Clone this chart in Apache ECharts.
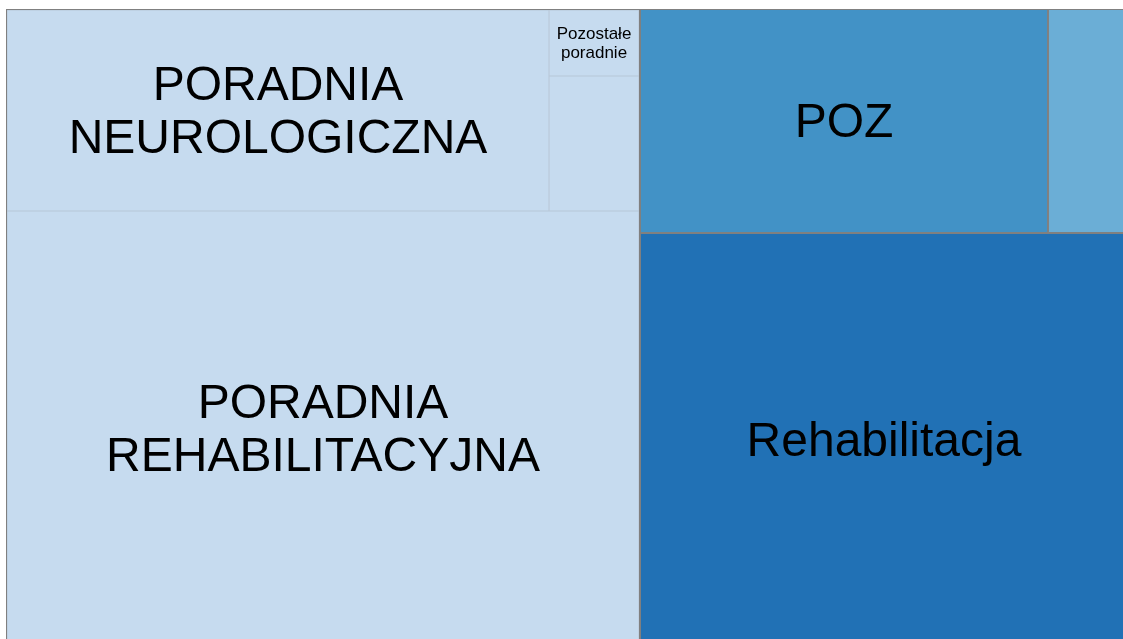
<!DOCTYPE html>
<html>
<head>
<meta charset="utf-8">
<script src="https://cdn.jsdelivr.net/npm/echarts@6/dist/echarts.min.js"></script>
<style>
  html, body { margin: 0; padding: 0; background: #fff; overflow: hidden; }
  #chart { width: 1123px; height: 639px; }
</style>
</head>
<body>
<div id="chart"></div>
<script>
// left block: clinics ("poradnie")
var poradnieNames = ['PORADNIA NEUROLOGICZNA', 'Pozostałe poradnie', '', 'PORADNIA REHABILITACYJNA'];
var poradnieValues = [153.4, 8.36, 17.1, 386.2];
// right block
var otherNames = ['POZ', '', 'Rehabilitacja'];
var otherValues = [127.88, 25.07, 281.99];

var poradnieColor = '#c6dbef';
var otherColors = ['#4292c6', '#6baed6', '#2171b5'];

function leaf(name, value, color, light, small) {
  return {
    name: name,
    value: value,
    itemStyle: {
      color: color,
      borderColor: light ? '#b7c6d6' : '#808080',
      borderWidth: light ? 0.5 : 1
    },
    label: {
      fontSize: small ? 17 : 48,
      lineHeight: small ? 19 : 53,
      offset: small ? [0, 1] : [0, 3]
    }
  };
}

var hidden = { borderWidth: 0, gapWidth: 0 };

var poradnieLeaves = poradnieNames.map(function (n, i) {
  return leaf(n, poradnieValues[i], poradnieColor, true, n === 'Pozostałe poradnie');
});
var otherLeaves = otherNames.map(function (n, i) {
  return leaf(n, otherValues[i], otherColors[i], false, false);
});

var data = [
  {
    name: 'Poradnie',
    itemStyle: { borderColor: '#808080', borderWidth: 1, gapWidth: 0 },
    children: [
      { name: ' ', itemStyle: hidden, children: poradnieLeaves.slice(0, 3) },
      poradnieLeaves[3]
    ]
  },
  {
    name: ' ',
    itemStyle: hidden,
    children: [
      { name: ' ', itemStyle: hidden, children: otherLeaves.slice(0, 2) },
      otherLeaves[2]
    ]
  }
];

var chart = echarts.init(document.getElementById('chart'));
chart.setOption({
  animation: false,
  series: [{
    type: 'treemap',
    left: 6,
    top: 9,
    width: 1122,
    height: 637,
    sort: false,
    squareRatio: 0.9,
    roam: false,
    nodeClick: false,
    breadcrumb: { show: false },
    itemStyle: { borderWidth: 0, gapWidth: 0 },
    label: {
      show: true,
      position: 'inside',
      color: '#000',
      fontFamily: 'Liberation Sans, Arial, sans-serif',
      fontWeight: 'normal',
      formatter: function (p) {
        return p.name.replace(' ', '\n');
      }
    },
    levels: [
      { itemStyle: { borderWidth: 0, gapWidth: 0 } }
    ],
    data: data
  }]
});
</script>
</body>
</html>
